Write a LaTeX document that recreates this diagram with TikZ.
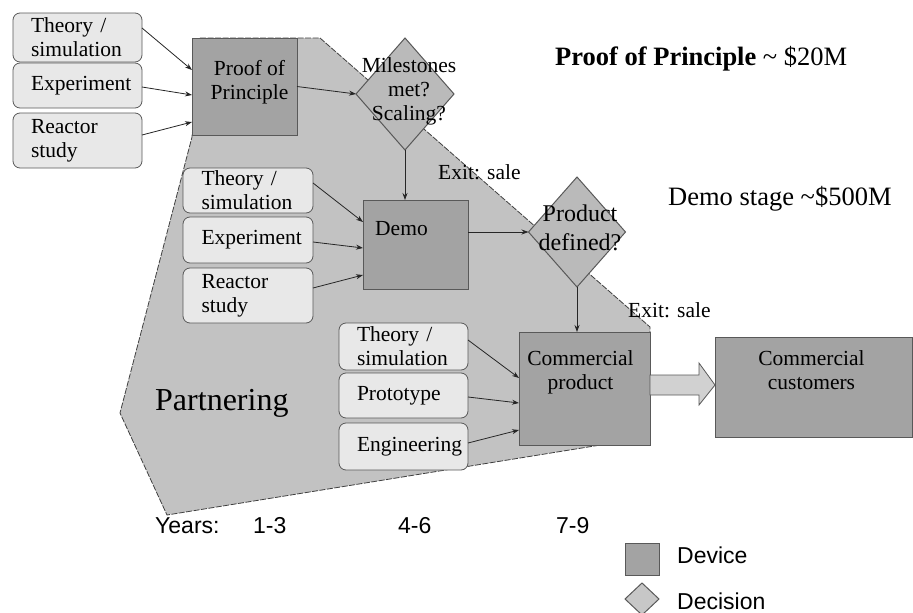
\documentclass[tikz,border=0pt]{standalone}
\usepackage{fontspec}
\setmainfont{Liberation Serif}
\setsansfont{Liberation Sans}
\usetikzlibrary{arrows.meta, positioning, shapes.geometric}

\definecolor{zonegray}{gray}{0.76}
\definecolor{devgray}{gray}{0.64}
\definecolor{srcgray}{gray}{0.91}
\definecolor{decgray}{gray}{0.73}
\definecolor{edgegray}{gray}{0.35}

\newcommand{\boxfont}{\fontsize{21.5}{24}\selectfont\hyphenpenalty=10000 }
\newcommand{\decfont}{\fontsize{24}{29}\selectfont}
\newcommand{\bigfont}{\fontsize{26.5}{30}\selectfont}
\newcommand{\axisfont}{\sffamily\fontsize{23}{26}\selectfont}

\begin{document}
\begin{tikzpicture}[
  x=1pt, y=-1pt,
  node distance=3pt,
  srcbox/.style={rectangle, draw=edgegray, fill=srcgray, line width=0.8pt, rounded corners=7pt, minimum width=129pt, text width=93pt, align=left, inner sep=0pt, outer sep=0pt, font=\boxfont},
  device/.style={rectangle, draw=edgegray, fill=devgray, line width=1pt, inner sep=0pt, outer sep=0pt},
  devtext/.style={anchor=north, align=center, inner sep=0pt, font=\boxfont},
  decision/.style={diamond, draw=edgegray, fill=decgray, line width=1pt, inner sep=0pt, outer sep=0pt},
  zone/.style={fill=zonegray, draw=black!75, line width=0.8pt, dash pattern=on 6pt off 1.5pt},
  note/.style={anchor=base west, inner sep=0pt, font=\boxfont},
  axis/.style={anchor=base west, inner sep=0pt, font=\axisfont},
  arr/.style={-{Stealth[length=7pt, width=5pt]}, line width=0.8pt, draw=black!85},
  bigarr/.style={draw=edgegray, fill=black!18, line width=0.8pt}
]
\useasboundingbox (0,0) rectangle (913,613);

% partnering zone
\filldraw[zone] (200,38) -- (320,38) -- (650,327) -- (650,437) -- (167,515) -- (120,413) -- (192,137) -- cycle;

% inputs, stage 1
\node[srcbox, minimum height=49pt] (ts1) at (77.5,37.5) {Theory /\\simulation};
\node[srcbox, minimum height=45pt, below=1pt of ts1] (ex1) {Experiment};
\node[srcbox, minimum height=55pt, below=5pt of ex1] (rs1) {Reactor\\study};

% inputs, stage 2
\node[srcbox, minimum width=130pt, minimum height=45pt] (ts2) at (248,190.5) {Theory /\\simulation};
\node[srcbox, minimum width=130pt, minimum height=46pt, below=4pt of ts2] (ex2) {Experiment};
\node[srcbox, minimum width=130pt, minimum height=55pt, below=5pt of ex2] (rs2) {Reactor\\study};

% inputs, stage 3
\node[srcbox, minimum height=47pt] (ts3) at (403.5,346.5) {Theory /\\simulation};
\node[srcbox, minimum height=45pt, below=3pt of ts3] (pr3) {Prototype};
\node[srcbox, minimum height=47pt, below=5pt of pr3] (en3) {Engineering};

% devices
\node[device, minimum width=105pt, minimum height=97pt,
  label={[devtext, xshift=5pt, yshift=-22pt]north:Proof of\\Principle}] (pop) at (244.5,86.5) {};
\node[device, minimum width=105pt, minimum height=89pt,
  label={[devtext, anchor=north west, xshift=12pt, yshift=-21pt]north west:Demo}] (demo) at (415.5,244.5) {};
\node[device, minimum width=131pt, minimum height=113pt,
  label={[devtext, xshift=-4pt, yshift=-18pt]north:Commercial\\product}] (cp) at (584.5,388.5) {};
\node[device, minimum width=197pt, minimum height=100pt,
  label={[devtext, xshift=-2pt, yshift=-13pt]north:Commercial\\customers}] (cc) at (813.5,387) {};

% decisions
\node[decision, minimum width=98pt, minimum height=112pt,
  label={[align=center, inner sep=0pt, font=\boxfont, xshift=4pt, yshift=3pt]center:Milestones\\met?\\Scaling?}] (ms) at (405,94) {};
\node[decision, minimum width=97pt, minimum height=110pt,
  label={[align=center, inner sep=0pt, font=\decfont, xshift=3pt, yshift=4pt]center:Product\\defined?}] (pd) at (577,232) {};

% connectors
\draw[arr] ([yshift=9.5pt]ts1.east) -- ([yshift=16.5pt]pop.west);
\draw[arr] ([yshift=-1.5pt]ex1.east) -- ([yshift=-8.5pt]pop.west);
\draw[arr] ([yshift=5.5pt]rs1.east) -- ([yshift=-35.5pt]pop.west);
\draw[arr] (pop.east) -- (ms.west);
\draw[arr] (ms.south) -- (ms.south |- demo.north);
\draw[arr] ([yshift=7.5pt]ts2.east) -- ([yshift=22.5pt]demo.west);
\draw[arr] ([yshift=-2pt]ex2.east) -- ([yshift=-3.5pt]demo.west);
\draw[arr] ([yshift=7.5pt]rs2.east) -- ([yshift=-30.5pt]demo.west);
\draw[arr] ([yshift=12.5pt]demo.east) -- (pd.west);
\draw[arr] (pd.south) -- (pd.south |- cp.north);
\draw[arr] ([yshift=6.5pt]ts3.east) -- ([yshift=10.5pt]cp.west);
\draw[arr] ([yshift=-1.5pt]pr3.east) -- ([yshift=-14.5pt]cp.west);
\draw[arr] ([yshift=3.5pt]en3.east) -- ([yshift=-41.5pt]cp.west);
\draw[bigarr] ([yshift=13.5pt]cp.east) -- ++(49,0) -- ++(0,-12) -- ([yshift=2pt]cc.west)
  -- ++(-16,20) -- ++(0,-10) -- ([yshift=-6.5pt]cp.east) -- cycle;

% free texts
\node[note] (exit1) at (438,179) {Exit: sale};
\node[note] (exit2) at (628,317) {Exit: sale};
\node[note, font=\bigfont] (stage1) at (555,65) {\textbf{Proof of Principle} \textasciitilde{} \$20M};
\node[note, font=\bigfont] (stage2) at (668,205) {Demo stage \textasciitilde\$500M};
\node[note, font=\fontsize{32}{36}\selectfont] (partner) at (155,410) {Partnering};

% time axis
\node[axis] (years) at (155,533) {Years:};
\node[axis] (yr1) at (253,533) {1-3};
\node[axis] (yr2) at (398,533) {4-6};
\node[axis] (yr3) at (556,533) {7-9};

% legend
\node[device, minimum width=34pt, minimum height=32pt] (legdev) at (642,559) {};
\node[decision, fill=black!22, minimum width=34pt, minimum height=32pt] (legdec) at (642,599) {};
\node[axis] (legdevtxt) at (677,563) {Device};
\node[axis] (legdectxt) at (677,609) {Decision};
\end{tikzpicture}
\end{document}
